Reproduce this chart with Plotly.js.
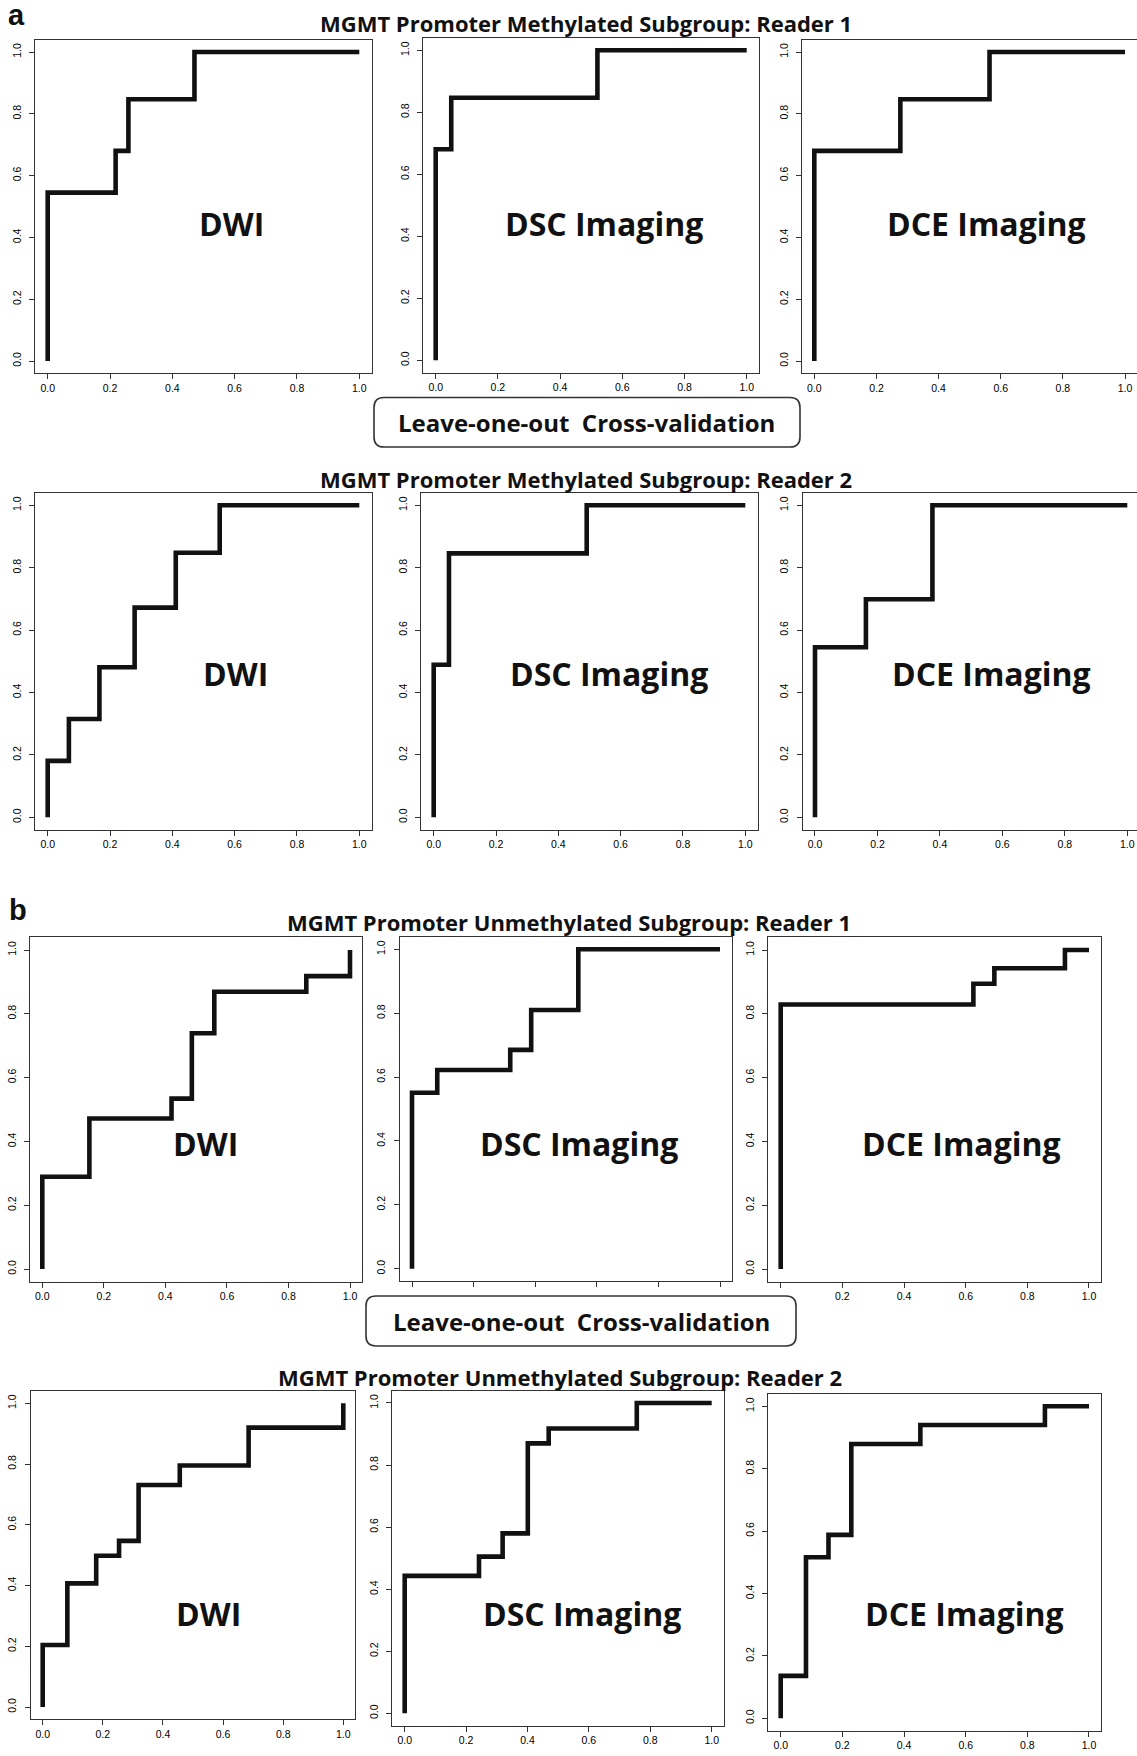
<!DOCTYPE html>
<html><head><meta charset="utf-8">
<script src="https://cdn.plot.ly/plotly-3.0.1.min.js"></script>
<style>html,body{margin:0;padding:0;background:#fff}</style>
</head><body><div id="chart" style="width:1137px;height:1756px"></div>
<script>
// ---------- data ----------
const tickVals = [0, 0.2, 0.4, 0.6, 0.8, 1.0];
const tickText = ['0.0', '0.2', '0.4', '0.6', '0.8', '1.0'];
const methods = ['DWI', 'DSC Imaging', 'DCE Imaging'];
const groupTitles = [
  'MGMT Promoter Methylated Subgroup: Reader 1',
  'MGMT Promoter Methylated Subgroup: Reader 2',
  'MGMT Promoter Unmethylated Subgroup: Reader 1',
  'MGMT Promoter Unmethylated Subgroup: Reader 2'
];
const validationLabel = 'Leave-one-out  Cross-validation';
const panelLetters = ['a', 'b'];

// ROC corner points (false positive rate, true positive rate)
const fprMetR1Dwi = [0, 0, 0.218, 0.259, 0.471, 1];
const tprMetR1Dwi = [0, 0.545, 0.680, 0.847, 1, 1];
const fprMetR1Dsc = [0, 0, 0.050, 0.520, 1];
const tprMetR1Dsc = [0, 0.681, 0.847, 1, 1];
const fprMetR1Dce = [0, 0, 0.277, 0.564, 1];
const tprMetR1Dce = [0, 0.680, 0.847, 1, 1];

const fprMetR2Dwi = [0, 0, 0.068, 0.166, 0.279, 0.411, 0.552, 1];
const tprMetR2Dwi = [0, 0.181, 0.315, 0.481, 0.672, 0.848, 1, 1];
const fprMetR2Dsc = [0, 0, 0.049, 0.491, 1];
const tprMetR2Dsc = [0, 0.489, 0.846, 1, 1];
const fprMetR2Dce = [0, 0, 0.163, 0.376, 1];
const tprMetR2Dce = [0, 0.545, 0.699, 1, 1];

const fprUnmR1Dwi = [0, 0, 0.153, 0.420, 0.486, 0.559, 0.858, 1];
const tprUnmR1Dwi = [0, 0.289, 0.472, 0.534, 0.739, 0.869, 0.918, 1];
const fprUnmR1Dsc = [0, 0, 0.082, 0.319, 0.387, 0.540, 1];
const tprUnmR1Dsc = [0, 0.551, 0.622, 0.685, 0.810, 1, 1];
const fprUnmR1Dce = [0, 0, 0.625, 0.693, 0.922, 1];
const tprUnmR1Dce = [0, 0.829, 0.894, 0.943, 1, 1];

const fprUnmR2Dwi = [0, 0, 0.082, 0.178, 0.254, 0.319, 0.456, 0.685, 1];
const tprUnmR2Dwi = [0, 0.204, 0.407, 0.498, 0.547, 0.731, 0.795, 0.920, 1];
const fprUnmR2Dsc = [0, 0, 0.242, 0.319, 0.401, 0.469, 0.756, 1];
const tprUnmR2Dsc = [0, 0.443, 0.505, 0.580, 0.870, 0.918, 1, 1];
const fprUnmR2Dce = [0, 0, 0.082, 0.155, 0.229, 0.453, 0.857, 1];
const tprUnmR2Dce = [0, 0.136, 0.516, 0.588, 0.879, 0.940, 1, 1];

const curves = [
  [fprMetR1Dwi, tprMetR1Dwi], [fprMetR1Dsc, tprMetR1Dsc], [fprMetR1Dce, tprMetR1Dce],
  [fprMetR2Dwi, tprMetR2Dwi], [fprMetR2Dsc, tprMetR2Dsc], [fprMetR2Dce, tprMetR2Dce],
  [fprUnmR1Dwi, tprUnmR1Dwi], [fprUnmR1Dsc, tprUnmR1Dsc], [fprUnmR1Dce, tprUnmR1Dce],
  [fprUnmR2Dwi, tprUnmR2Dwi], [fprUnmR2Dsc, tprUnmR2Dsc], [fprUnmR2Dce, tprUnmR2Dce]
];

// ---------- layout geometry (pixels) ----------
const W = 1137, H = 1756;
// pixel position of data value 0 and 1 on each axis
const geom = [
  {x0: 47.7, x1: 359.3, y0: 361, y1: 52},
  {x0: 435.7, x1: 746.7, y0: 360.3, y1: 50.3},
  {x0: 814.3, x1: 1125, y0: 361, y1: 52},
  {x0: 47.7, x1: 359.3, y0: 817.3, y1: 505.3},
  {x0: 433.7, x1: 745.3, y0: 817.3, y1: 505.3},
  {x0: 815, x1: 1127.3, y0: 817.3, y1: 505.3},
  {x0: 42.3, x1: 350, y0: 1269, y1: 950},
  {x0: 412, x1: 720, y0: 1268.7, y1: 949.3},
  {x0: 780.7, x1: 1089, y0: 1269, y1: 950},
  {x0: 42.7, x1: 343.3, y0: 1707, y1: 1403.3},
  {x0: 404.7, x1: 711.7, y0: 1713.3, y1: 1403},
  {x0: 780.7, x1: 1089, y0: 1718.3, y1: 1406.3}
];
// x tick labels that sit under the validation box (panel index -> hidden tick indices)
const coveredXLabels = {7: [0, 1, 2, 3, 4, 5], 8: [0]};
const labelPos = [
  [231, 223], [604, 223], [986, 223],
  [235, 673], [609, 673], [991, 673],
  [205, 1143], [578.5, 1143], [961, 1143],
  [208, 1613], [582, 1613], [964, 1613]
];
const titlePos = [[586, 23.3], [586, 479], [569, 921.7], [560, 1376.7]];
const boxes = [
  {l: 374, r: 800, t: 397.5, b: 447, tx: 586, ty: 422.8},
  {l: 366, r: 796, t: 1296, b: 1346, tx: 581.5, ty: 1321}
];
const letterPos = [[16.7, 15], [18.3, 910]];

const px = v => v / W;
const py = v => 1 - v / H;

const traces = [];
const layout = {
  width: W, height: H,
  margin: {l: 0, r: 0, t: 0, b: 0},
  paper_bgcolor: '#fff', plot_bgcolor: '#fff',
  showlegend: false,
  annotations: [], shapes: []
};

const tickFont = {family: 'Liberation Sans, Arial, sans-serif', size: 10.5, color: '#000'};
const boldFont = (s) => ({family: 'Open Sans, Noto Sans, sans-serif', size: s, color: '#111', weight: 700});

geom.forEach((g, i) => {
  const n = i + 1;
  const ux = g.x1 - g.x0, uy = g.y0 - g.y1;
  const left = Math.max(0, g.x0 - 0.04 * ux);
  const right = Math.min(W, g.x1 + 0.04 * ux);
  const top = g.y1 - 0.04 * uy;
  const bottom = g.y0 + 0.04 * uy;
  const xa = n === 1 ? 'xaxis' : 'xaxis' + n;
  const ya = n === 1 ? 'yaxis' : 'yaxis' + n;
  const common = {
    showgrid: false, zeroline: false, showline: true, mirror: true,
    linecolor: '#333', linewidth: 1, ticks: 'outside', ticklen: 5, tickwidth: 1,
    tickcolor: '#333', tickmode: 'array', tickvals: tickVals, ticktext: tickText,
    tickfont: tickFont, fixedrange: true
  };
  const hidden = coveredXLabels[i] || [];
  layout[xa] = Object.assign({}, common, {
    domain: [px(left), px(right)],
    range: [(left - g.x0) / ux, (right - g.x0) / ux],
    anchor: n === 1 ? 'y' : 'y' + n,
    ticklabelstandoff: 3.5,
    ticktext: tickText.map((t, k) => hidden.indexOf(k) >= 0 ? '' : t)
  });
  layout[ya] = Object.assign({}, common, {
    domain: [py(bottom), py(top)],
    range: [(g.y0 - bottom) / uy, (g.y0 - top) / uy],
    anchor: n === 1 ? 'x' : 'x' + n,
    tickangle: -90,
    ticklabelstandoff: 4
  });
  traces.push({
    type: 'scatter', mode: 'lines',
    x: curves[i][0], y: curves[i][1],
    xaxis: n === 1 ? 'x' : 'x' + n, yaxis: n === 1 ? 'y' : 'y' + n,
    line: {color: '#111', width: 4.6, shape: 'hv'},
    hoverinfo: 'skip'
  });
  layout.annotations.push({
    xref: 'paper', yref: 'paper', x: px(labelPos[i][0]), y: py(labelPos[i][1]),
    xanchor: 'center', yanchor: 'middle', showarrow: false,
    text: methods[i % 3], font: boldFont(32)
  });
});

groupTitles.forEach((t, i) => {
  layout.annotations.push({
    xref: 'paper', yref: 'paper', x: px(titlePos[i][0]), y: py(titlePos[i][1]),
    xanchor: 'center', yanchor: 'middle', showarrow: false,
    text: t, font: boldFont(22)
  });
});

function roundRect(b, r) {
  const L = b.l, R = b.r, T = b.t, B = b.b;
  const P = (x, y) => px(x).toFixed(5) + ',' + py(y).toFixed(5);
  return 'M' + P(L + r, T) + ' L' + P(R - r, T) + ' Q' + P(R, T) + ' ' + P(R, T + r) +
    ' L' + P(R, B - r) + ' Q' + P(R, B) + ' ' + P(R - r, B) +
    ' L' + P(L + r, B) + ' Q' + P(L, B) + ' ' + P(L, B - r) +
    ' L' + P(L, T + r) + ' Q' + P(L, T) + ' ' + P(L + r, T) + ' Z';
}

boxes.forEach(b => {
  layout.shapes.push({
    type: 'path', xref: 'paper', yref: 'paper', layer: 'above',
    path: roundRect(b, 10), fillcolor: '#fff', line: {color: '#333', width: 1.6}
  });
  layout.annotations.push({
    xref: 'paper', yref: 'paper', x: px(b.tx), y: py(b.ty),
    xanchor: 'center', yanchor: 'middle', showarrow: false,
    text: validationLabel, font: boldFont(24)
  });
});

panelLetters.forEach((t, i) => {
  layout.annotations.push({
    xref: 'paper', yref: 'paper', x: px(letterPos[i][0]), y: py(letterPos[i][1]),
    xanchor: 'center', yanchor: 'middle', showarrow: false,
    text: t, font: {family: 'Liberation Sans, Arial, sans-serif', size: 29, color: '#111', weight: 700}
  });
});

Plotly.newPlot('chart', traces, layout, {staticPlot: true, displayModeBar: false});
</script>
</body></html>
